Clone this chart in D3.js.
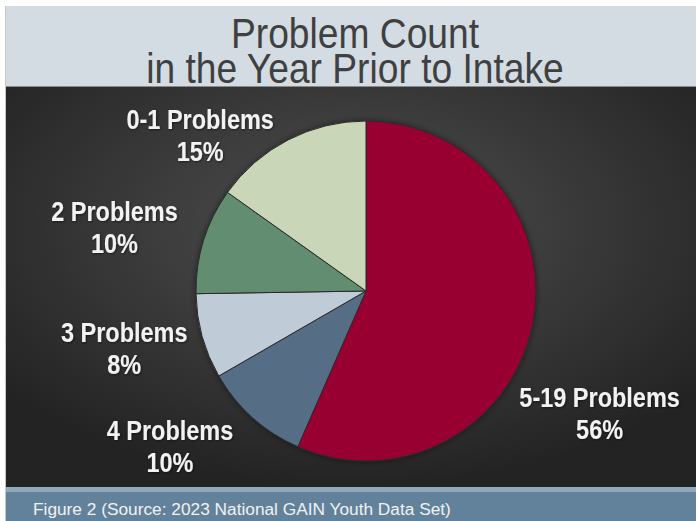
<!DOCTYPE html>
<html>
<head>
<meta charset="utf-8">
<script src="https://cdn.jsdelivr.net/npm/d3@7"></script>
<style>
  html, body { margin: 0; padding: 0; background: #fff; }
  svg { display: block; }
</style>
</head>
<body>
<svg id="chart"></svg>
<script>
"use strict";

// Data
const categories = ["5-19 Problems", "4 Problems", "3 Problems", "2 Problems", "0-1 Problems"];
const percents = [56, 10, 8, 10, 15];
const sliceColors = ["#990033", "#546e86", "#bfccd7", "#628d6f", "#cad6b8"];
const titleLines = ["Problem Count", "in the Year Prior to Intake"];
const caption = "Figure 2 (Source: 2023 National GAIN Youth Data Set)";

// Sizes
const width = 696;
const height = 521;
const pie = { cx: 366, cy: 291, r: 170, labelR: 255 };
// label nudges off the outer label arc, same order as categories
const labelNudge = [[-16, 80], [-26, -25], [4, -1], [-8, 22], [-49, 81]];
// no narrow font installed: squeeze Liberation Sans sideways instead
const font = "'Liberation Sans', Arial, sans-serif";
const narrow = 0.87;

const svg = d3.select("#chart")
  .attr("width", width)
  .attr("height", height);

const defs = svg.append("defs");

const grad = defs.append("radialGradient")
  .attr("id", "bg")
  .attr("cx", "50%").attr("cy", "35%")
  .attr("r", "65%");
grad.append("stop").attr("offset", "0%").attr("stop-color", "#505050");
grad.append("stop").attr("offset", "100%").attr("stop-color", "#232323");

const shadow = defs.append("filter")
  .attr("id", "shadow")
  .attr("x", "-20%").attr("y", "-20%")
  .attr("width", "140%").attr("height", "140%");
shadow.append("feDropShadow")
  .attr("dx", 0).attr("dy", 0)
  .attr("stdDeviation", 3)
  .attr("flood-color", "#000")
  .attr("flood-opacity", 0.45);

const txtShadow = defs.append("filter").attr("id", "txtShadow");
txtShadow.append("feDropShadow")
  .attr("dx", 1).attr("dy", 1)
  .attr("stdDeviation", 1)
  .attr("flood-color", "#000")
  .attr("flood-opacity", 0.5);

// Background panels
svg.append("rect")
  .attr("x", 5).attr("y", 6)
  .attr("width", width - 5).attr("height", 80)
  .attr("fill", "#d3dce3");

svg.append("line")
  .attr("x1", 5.5).attr("x2", 5.5)
  .attr("y1", 6).attr("y2", height)
  .attr("stroke", "#c4c8cc");

svg.append("rect")
  .attr("x", 6).attr("y", 86)
  .attr("width", width - 6).attr("height", 1)
  .attr("fill", "#8a8a8a");

svg.append("rect")
  .attr("x", 6).attr("y", 87)
  .attr("width", width - 6).attr("height", 400)
  .attr("fill", "url(#bg)");

svg.append("rect")
  .attr("x", 6).attr("y", 487)
  .attr("width", width - 6).attr("height", 5)
  .attr("fill", "#8fa8ba");

svg.append("rect")
  .attr("x", 6).attr("y", 492)
  .attr("width", width - 6).attr("height", height - 492)
  .attr("fill", "#62819a");

// Title
svg.append("g")
  .attr("transform", "translate(355, 0) scale(0.865, 1)")
  .append("text")
    .attr("text-anchor", "middle")
    .attr("font-family", font)
    .attr("font-size", 43)
    .attr("fill", "#404040")
  .selectAll("tspan")
  .data(titleLines)
  .join("tspan")
    .attr("x", 0)
    .attr("y", (d, i) => 48 + i * 35)
    .text(d => d);

// Caption
svg.append("text")
  .attr("x", 33)
  .attr("y", 515)
  .attr("font-family", font)
  .attr("font-size", 17.3)
  .attr("fill", "#f2f2f2")
  .text(caption);

// Pie
const data = categories.map((c, i) => ({ name: c, value: percents[i], color: sliceColors[i] }));

const arcs = d3.pie()
  .sort(null)
  .value(d => d.value)
  .startAngle(0)
  .endAngle(2 * Math.PI)(data);

const arc = d3.arc().innerRadius(0).outerRadius(pie.r);
const labelArc = d3.arc().innerRadius(pie.labelR).outerRadius(pie.labelR);

const g = svg.append("g")
  .attr("transform", `translate(${pie.cx}, ${pie.cy})`);

g.append("g")
  .attr("filter", "url(#shadow)")
  .selectAll("path")
  .data(arcs)
  .join("path")
    .attr("d", arc)
    .attr("fill", d => d.data.color)
    .attr("stroke", "#2a2a2a")
    .attr("stroke-width", 1);

// Labels
const labels = g.selectAll("g.lbl")
  .data(arcs)
  .join("g")
    .attr("class", "lbl")
    .attr("filter", "url(#txtShadow)")
    .attr("transform", (d, i) => {
      const [x, y] = labelArc.centroid(d);
      return `translate(${x + labelNudge[i][0]}, ${y + labelNudge[i][1]}) scale(${narrow}, 1)`;
    })
  .append("text")
    .attr("text-anchor", "middle")
    .attr("font-family", font)
    .attr("font-weight", "bold")
    .attr("font-size", 27)
    .attr("fill", "#f2f2f2");

labels.append("tspan")
  .attr("x", 0).attr("y", -16)
  .text(d => d.data.name);

labels.append("tspan")
  .attr("x", 0).attr("y", 16)
  .text(d => d.data.value + "%");
</script>
</body>
</html>
